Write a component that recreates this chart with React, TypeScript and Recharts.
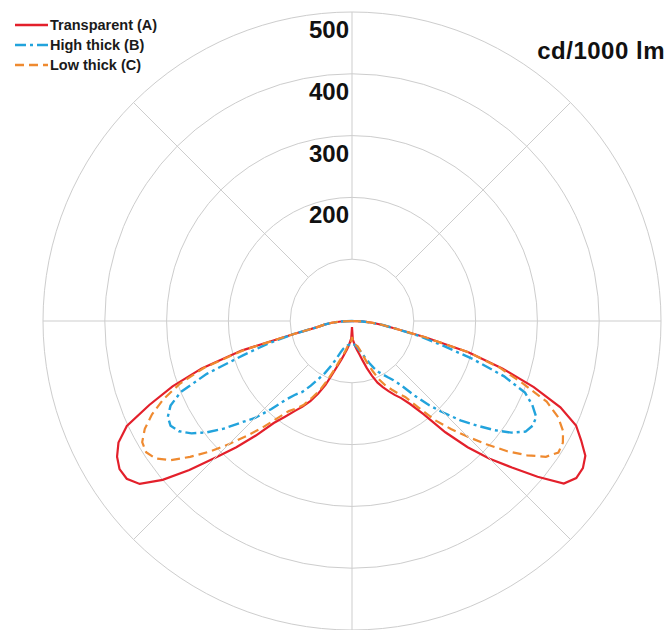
import { PolarAngleAxis, PolarGrid, PolarRadiusAxis, Radar, RadarChart } from "recharts";

// angle from nadir (0 = straight down, negative = left half)
const gamma = [
  -180, -135, -90, -87.5, -85, -82.5, -80, -77.5, -75, -72.5, -70, -67.5, -65, -62.5, -60, -57.5, -55, -52.5,
  -50, -47.5, -45, -42.5, -40, -37.5, -35, -32.5, -30, -27.5, -25, -22.5, -20, -17.5, -15, -12.5, -10, -7.5,
  -5, -2.5, 0, 2.5, 5, 7.5, 10, 12.5, 15, 17.5, 20, 22.5, 25, 27.5, 30, 32.5, 35, 37.5, 40, 42.5, 45, 47.5,
  50, 52.5, 55, 57.5, 60, 62.5, 65, 67.5, 70, 72.5, 75, 77.5, 80, 82.5, 85, 87.5, 90, 135, 180
];

const transparentA = [
  0, 0, 0, 18, 33, 45, 57, 95, 185, 255, 309, 355, 402, 426, 439, 446, 445, 433,
  400, 357, 313, 277, 242, 208, 189, 173, 160, 146, 130, 112, 90, 74, 63, 54, 47, 40,
  33, 28, 10, 30, 35, 42, 48, 55, 66, 80, 94, 108, 118, 128, 138, 148, 164, 190, 235, 277, 315, 351,
  392, 432, 443, 443, 436, 418, 400, 365, 313, 255, 195, 120, 72, 50, 33, 17, 0, 0, 0
];

const highThickB = [
  0, 0, 0, 18, 33, 45, 57, 95, 140, 185, 250, 300, 324, 336, 339, 332, 317, 296,
  271, 243, 222, 193, 166, 150, 140, 124, 108, 95, 80, 66, 54, 47, 44, 42, 40, 39,
  38, 37, 36, 37, 38, 40, 42, 46, 50, 56, 64, 74, 84, 93, 100, 108, 117, 132, 158, 185, 210, 238,
  263, 290, 315, 333, 338, 336, 322, 303, 262, 205, 150, 110, 72, 50, 33, 17, 0, 0, 0
];

const lowThickC = [
  0, 0, 0, 18, 33, 45, 57, 95, 180, 250, 296, 330, 357, 378, 392, 395, 388, 370,
  342, 313, 282, 252, 225, 198, 178, 168, 157, 140, 124, 104, 84, 68, 58, 50, 42, 40,
  38, 34, 26, 32, 36, 38, 40, 42, 48, 58, 72, 88, 105, 118, 128, 139, 150, 176, 210, 237, 265, 295,
  328, 357, 383, 396, 394, 385, 368, 341, 293, 250, 195, 120, 72, 50, 33, 17, 0, 0, 0
];

const rings = [0, 100, 200, 300, 400, 500];
const spokes = [-180, -135, -90, -45, 0, 45, 90, 135];

const data = gamma.map((g, i) => ({
  angle: g,
  a: transparentA[i],
  b: highThickB[i],
  c: lowThickC[i]
}));

const series = [
  { key: "a", name: "Transparent (A)", color: "#e3202b", dash: undefined, width: 2.2 },
  { key: "b", name: "High thick (B)", color: "#22a3dc", dash: "11 4 3 4", width: 2.4 },
  { key: "c", name: "Low thick (C)", color: "#ef8a30", dash: "9 5", width: 2.2 }
];

const W = 670;
const H = 630;
const CX = 352;
const CY = 321;
const R = 309;
const GRID = "#cdcdcd";
const FONT = '"Liberation Sans", Arial, sans-serif';

// spokes start at the first ring, not at the centre
function SpokeTick(props: any) {
  const { x, y } = props;
  const dx = x - CX;
  const dy = y - CY;
  const d = Math.sqrt(dx * dx + dy * dy) || 1;
  const inner = R * (rings[1] / rings[rings.length - 1]);
  return (
    <line
      x1={CX + (dx / d) * inner}
      y1={CY + (dy / d) * inner}
      x2={CX + (dx / d) * R}
      y2={CY + (dy / d) * R}
      stroke={GRID}
      strokeWidth={1}
    />
  );
}

function RadiusTick(props: any) {
  const { x, y, payload } = props;
  if (payload.value < 200) return null;
  return (
    <text x={x - 3} y={y + 26} textAnchor="end" fontSize={24} fontWeight="bold" fill="#111" fontFamily={FONT}>
      {payload.value}
    </text>
  );
}

export default function App() {
  return (
    <div style={{ position: "absolute", left: 0, top: 0, width: W, height: H, background: "#fff", fontFamily: FONT }}>
      <RadarChart
        width={W}
        height={H}
        data={data}
        cx={CX}
        cy={CY}
        outerRadius={R}
        startAngle={-270}
        endAngle={90}
        margin={{ top: 0, right: 0, bottom: 0, left: 0 }}
      >
        <PolarGrid gridType="circle" radialLines={false} stroke={GRID} />
        <PolarAngleAxis
          dataKey="angle"
          type="number"
          domain={[-180, 180]}
          ticks={spokes}
          tick={SpokeTick}
          tickLine={false}
          axisLine={false}
        />
        <PolarRadiusAxis
          angle={90}
          domain={[0, 500]}
          ticks={rings}
          tickCount={6}
          axisLine={false}
          tick={RadiusTick}
        />
        {series.map((s) => (
          <Radar
            key={s.key}
            dataKey={s.key}
            name={s.name}
            stroke={s.color}
            strokeWidth={s.width}
            strokeDasharray={s.dash}
            fill="none"
            dot={false}
            isAnimationActive={false}
          />
        ))}
      </RadarChart>

      <div style={{ position: "absolute", left: 15, top: 15 }}>
        {series.map((s) => (
          <div key={s.key} style={{ display: "flex", alignItems: "center", height: 20 }}>
            <svg width={35} height={6}>
              <line x1={0} y1={3} x2={33} y2={3} stroke={s.color} strokeWidth={2.4} strokeDasharray={s.dash} />
            </svg>
            <span style={{ fontSize: 14.5, fontWeight: "bold", color: "#1a1a1a", whiteSpace: "nowrap" }}>{s.name}</span>
          </div>
        ))}
      </div>

      <div
        style={{
          position: "absolute",
          right: 5,
          top: 39,
          fontSize: 24,
          lineHeight: "24px",
          fontWeight: "bold",
          letterSpacing: 0.5,
          color: "#111"
        }}
      >
        cd/1000 lm
      </div>
    </div>
  );
}
